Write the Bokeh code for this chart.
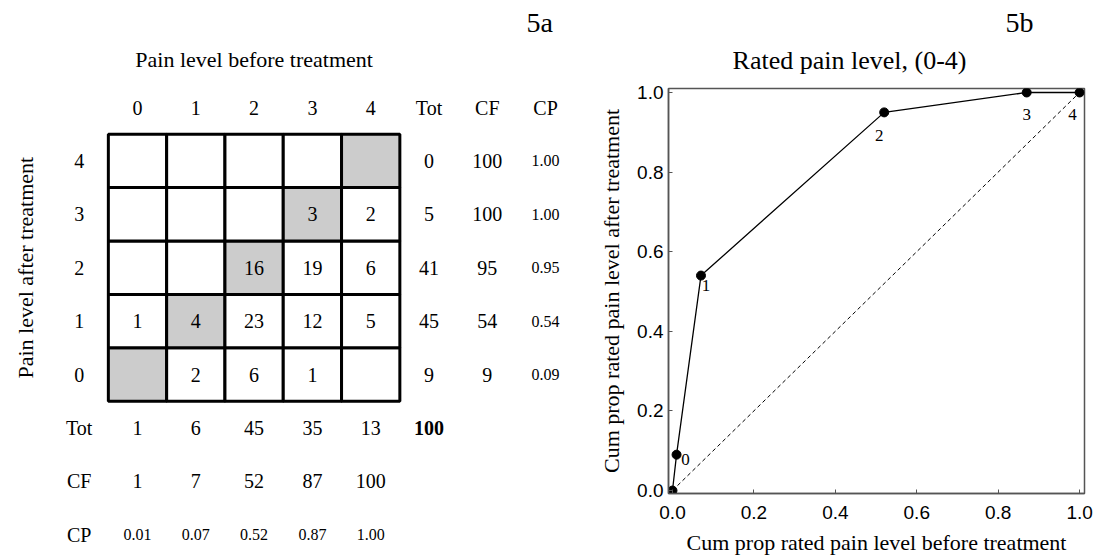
import numpy as np
from bokeh.plotting import figure
from bokeh.models import ColumnDataSource, Range1d, FixedTicker, PrintfTickFormatter
from bokeh.layouts import row, column
from bokeh.core.properties import value
from bokeh.embed import file_html
from bokeh.resources import INLINE

# ---------------- data ----------------
levels = [0, 1, 2, 3, 4]
# counts_after_a = counts per "before" level 0..4 for "after" level a (None = empty cell)
counts_after_4 = [None, None, None, None, None]
counts_after_3 = [None, None, None, 3, 2]
counts_after_2 = [None, None, 16, 19, 6]
counts_after_1 = [1, 4, 23, 12, 5]
counts_after_0 = [None, 2, 6, 1, None]
counts = {0: counts_after_0, 1: counts_after_1, 2: counts_after_2,
          3: counts_after_3, 4: counts_after_4}
summary_headers = ["Tot", "CF", "CP"]
tick_values = [0.0, 0.2, 0.4, 0.6, 0.8, 1.0]

title_a = "Pain level before treatment"
ylabel_a = "Pain level after treatment"
panel_a = "5a"
title_b = "Rated pain level, (0-4)"
xlabel_b = "Cum prop rated pain level before treatment"
ylabel_b = "Cum prop rated pain level after treatment"
panel_b = "5b"

# derived summaries
row_tot = [sum(v for v in counts[a] if v is not None) for a in levels]
col_tot = [sum(counts[a][b] for a in levels if counts[a][b] is not None) for b in levels]
N = sum(row_tot)
row_cf = [int(c) for c in np.cumsum(row_tot)]
col_cf = [int(c) for c in np.cumsum(col_tot)]
row_cp = [c / N for c in row_cf]
col_cp = [c / N for c in col_cf]

SERIF = "Liberation Serif"
SANS = "Liberation Sans"

# ---------------- panel 5a (table) ----------------
CW, RH = 58.3, 53.4
W_TOTAL, H = 1101, 557
W1 = 564
X0, Y0 = 137, 374   # figure-pixel position of cell (0, 0) centre
p1 = figure(width=W1, height=H, output_backend="svg", toolbar_location=None,
            x_range=Range1d(-X0 / CW, (W1 - X0) / CW),
            y_range=Range1d((Y0 - H) / RH, Y0 / RH),
            min_border=0)
p1.frame_align = False
p1.axis.visible = False
p1.grid.visible = False
p1.outline_line_color = None
p1.background_fill_color = "white"

cx, cy, cf = [], [], []
for a in levels:
    for b in levels:
        cx.append(b)
        cy.append(a)
        cf.append("#cccccc" if a == b else "white")
p1.rect(x="x", y="y", width=1, height=1, fill_color="c", line_color="black",
        line_width=3, source=ColumnDataSource(dict(x=cx, y=cy, c=cf)))

big_x, big_y, big_t = [], [], []
small_x, small_y, small_t = [], [], []
for a in levels:
    for b in levels:
        if counts[a][b] is not None:
            big_x.append(b); big_y.append(a); big_t.append(str(counts[a][b]))
for b in levels:
    big_x.append(b); big_y.append(5); big_t.append(str(b))
for k, h in enumerate(summary_headers):
    big_x.append(5 + k); big_y.append(5); big_t.append(h)
for a in levels:
    big_x.append(-1); big_y.append(a); big_t.append(str(a))
for k, h in enumerate(summary_headers):
    big_x.append(-1); big_y.append(-1 - k); big_t.append(h)
for i, a in enumerate(levels):
    big_x.append(5); big_y.append(a); big_t.append(str(row_tot[i]))
    big_x.append(6); big_y.append(a); big_t.append(str(row_cf[i]))
    small_x.append(7); small_y.append(a); small_t.append("%.2f" % row_cp[i])
for i, b in enumerate(levels):
    big_x.append(b); big_y.append(-1); big_t.append(str(col_tot[i]))
    big_x.append(b); big_y.append(-2); big_t.append(str(col_cf[i]))
    small_x.append(b); small_y.append(-3); small_t.append("%.2f" % col_cp[i])

p1.text(x="x", y="y", text="t", source=ColumnDataSource(dict(x=big_x, y=big_y, t=big_t)),
        text_font=value(SERIF), text_font_size=value("20px"), text_color="black",
        text_align="center", text_baseline="middle")
p1.text(x="x", y="y", text="t", source=ColumnDataSource(dict(x=small_x, y=small_y, t=small_t)),
        text_font=value(SERIF), text_font_size=value("16px"), text_color="black",
        text_align="center", text_baseline="middle")
p1.text(x=[5], y=[-1], text=[str(N)], text_font=value(SERIF), text_font_size=value("20px"),
        text_font_style="bold", text_align="center", text_baseline="middle", text_color="black")
p1.text(x=[2], y=[5.9], text=[title_a], text_font=value(SERIF), text_font_size=value("22px"),
        text_align="center", text_baseline="middle", text_color="black")
p1.text(x=[6.9], y=[6.59], text=[panel_a], text_font=value(SERIF), text_font_size=value("28px"),
        text_align="center", text_baseline="middle", text_color="black")
p1.text(x=[-1.92], y=[2], text=[ylabel_a], angle=np.pi / 2, text_font=value(SERIF),
        text_font_size=value("22px"), text_align="center", text_baseline="middle",
        text_color="black")

# ---------------- panel 5b header (titles) ----------------
W2 = W_TOTAL - W1
HH = 80
ph = figure(width=W2, height=HH, output_backend="svg", toolbar_location=None,
            x_range=Range1d(0, W2), y_range=Range1d(HH, 0), min_border=0)
ph.frame_align = False
ph.axis.visible = False
ph.grid.visible = False
ph.outline_line_color = None
ph.text(x=[285], y=[60], text=[title_b], text_font=value(SERIF), text_font_size=value("26px"),
        text_align="center", text_baseline="middle", text_color="black")
ph.text(x=[455], y=[22], text=[panel_b], text_font=value(SERIF), text_font_size=value("28px"),
        text_align="center", text_baseline="middle", text_color="black")

# ---------------- panel 5b (curve) ----------------
x_pts = [0.0] + col_cp
y_pts = [0.0] + row_cp
pt_labels = [str(l) for l in levels]
lab_dx = [9, 5, -5, 0, -7]
lab_dy = [5, 10, 23, 22, 22]

p2 = figure(width=W2, height=H - HH, output_backend="svg", toolbar_location=None,
            x_range=Range1d(-0.0098, 1.012), y_range=Range1d(-0.0075, 1.01),
            min_border_left=104, min_border_right=17, min_border_top=8, min_border_bottom=61)
p2.frame_align = False
p2.title.visible = False
p2.grid.visible = False
p2.outline_line_color = "#555555"
p2.outline_line_width = 1.5

p2.line([0, 1], [0, 1], line_color="black", line_width=1, line_dash="4 3")
p2.line(x_pts, y_pts, line_color="black", line_width=1.3)
p2.scatter(x_pts, y_pts, size=9, color="black")
p2.text(x=x_pts[1:], y=y_pts[1:], text=pt_labels, x_offset=lab_dx, y_offset=lab_dy,
        text_font=value(SERIF), text_font_size=value("17px"), text_align="center",
        text_baseline="middle", text_color="black")

for ax in (p2.xaxis[0], p2.yaxis[0]):
    ax.ticker = FixedTicker(ticks=tick_values)
    ax.formatter = PrintfTickFormatter(format="%.1f")
    ax.major_label_text_font = SANS
    ax.major_label_text_font_size = "19px"
    ax.major_label_text_color = "black"
    ax.axis_label_text_font = SERIF
    ax.axis_label_text_font_size = "22px"
    ax.axis_label_text_font_style = "normal"
    ax.axis_label_text_color = "black"
    ax.axis_line_color = "#555555"
    ax.axis_line_width = 1.5
    ax.major_tick_line_color = "#555555"
    ax.major_tick_in = 4
    ax.major_tick_out = 0
    ax.minor_tick_in = 0
    ax.minor_tick_out = 0
p2.xaxis.axis_label = xlabel_b
p2.yaxis.axis_label = ylabel_b
p2.xaxis.major_label_standoff = 12
p2.xaxis.axis_label_standoff = 8
p2.yaxis.major_label_standoff = 5
p2.yaxis.axis_label_standoff = 10

layout = row(p1, column(ph, p2))
open("out.html", "w").write(file_html(layout, INLINE))
